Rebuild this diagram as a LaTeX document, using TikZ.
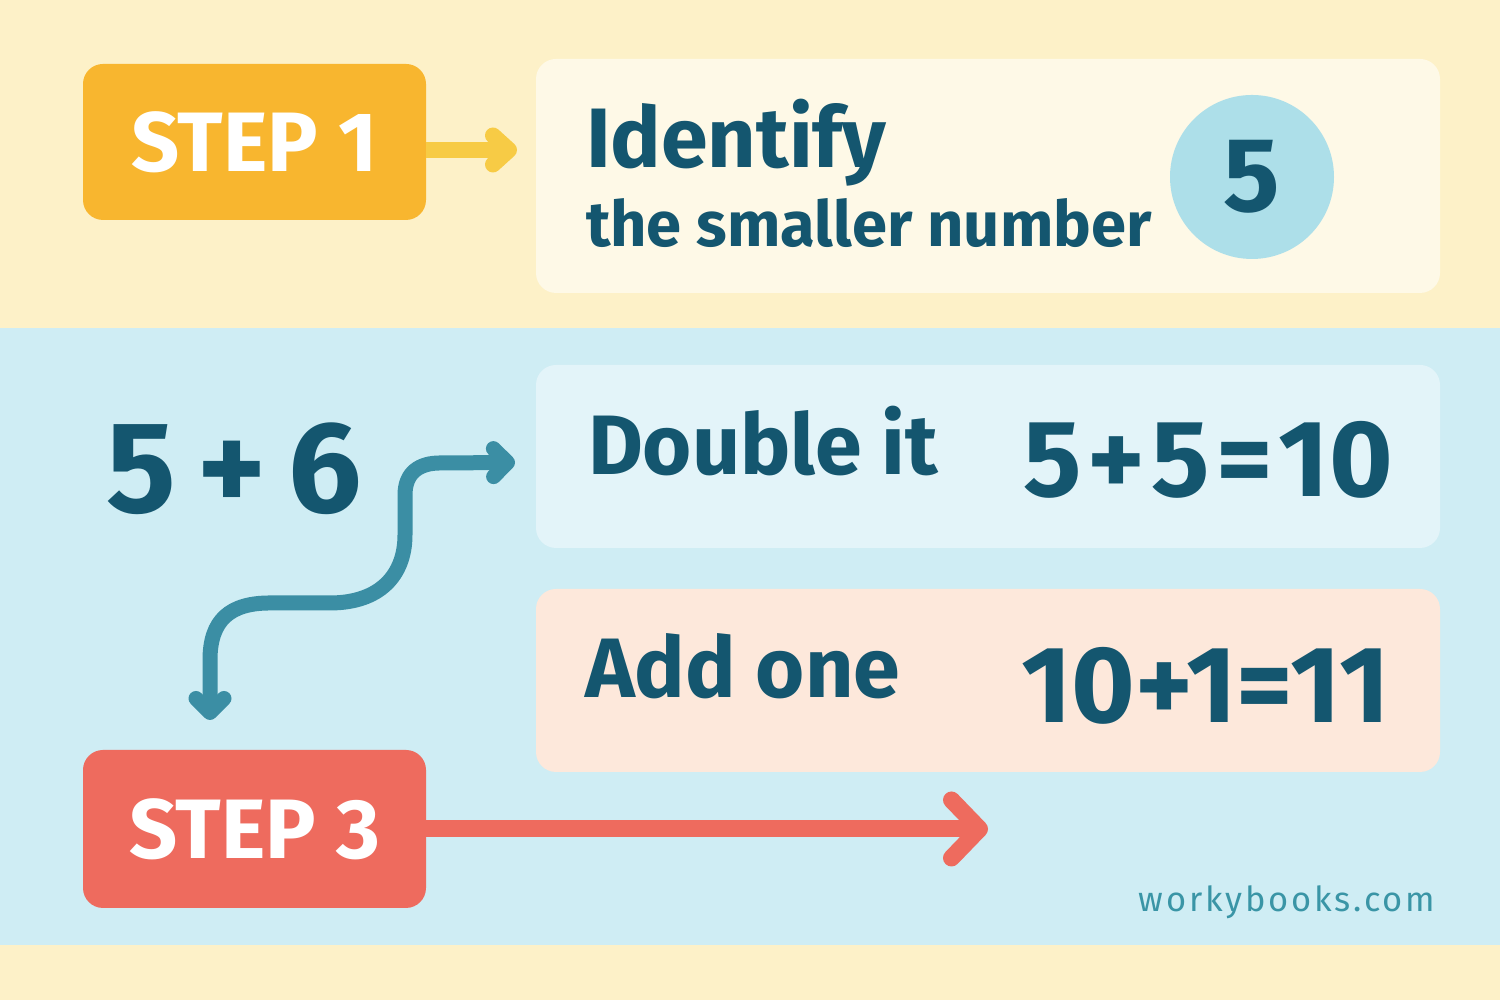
\documentclass[tikz,border=0pt]{standalone}
\usepackage{fontspec}
\setmainfont{Fira Sans}
\usetikzlibrary{positioning}
\usetikzlibrary{calc,arrows.meta}
\definecolor{ink}{HTML}{14566F}
\definecolor{bandyellow}{HTML}{FDF1C8}
\definecolor{bandblue}{HTML}{CFEDF4}
\definecolor{stepone}{HTML}{F8B62F}
\definecolor{arrowyellow}{HTML}{F7CB45}
\definecolor{cardone}{HTML}{FEF9E7}
\definecolor{disc}{HTML}{ADDFE9}
\definecolor{cardtwo}{HTML}{E3F4F9}
\definecolor{cardthree}{HTML}{FDE8DB}
\definecolor{tealarrow}{HTML}{3B8EA4}
\definecolor{stepthree}{HTML}{EE6B5E}
\definecolor{web}{HTML}{3A95A6}

\begin{document}
\begin{tikzpicture}[every node/.style={outer sep=0pt,inner sep=0pt},
		stepbox/.style={rounded corners=0.2cm,minimum width=3.43cm,text=white,font=\fontsize{24}{30}\selectfont\bfseries},
		card/.style={rounded corners=0.2cm,minimum width=9.04cm},
		big/.style={text=ink,font=\fontsize{24}{28}\selectfont\bfseries},
		sum/.style={text=ink,font=\fontsize{31}{36}\selectfont\bfseries},
		link/.style={line width=0.16cm,-{Straight Barb[length=1.6mm,width=2.9mm,round]}},
		turn/.style={line width=0.15cm,draw=tealarrow,{Straight Barb[length=1.4mm,width=2.8mm,round]}-{Straight Barb[length=1.4mm,width=2.8mm,round]}},
		]
		\useasboundingbox (0,0) rectangle (15,10);
		\fill[bandyellow] (0,0) rectangle (15,10);
		\fill[bandblue] (0,0.55) rectangle (15,6.72);

		\node[stepbox,fill=stepone,minimum height=1.56cm] (s1) at (2.545,8.58) {STEP 1};
		\node[card,fill=cardone,minimum height=2.34cm] (c1) at (9.88,8.24) {};
		\node[big,anchor=base west] (ident) at (5.86,8.32) {Identify};
		\node[text=ink,font=\fontsize{18}{21}\selectfont\bfseries,anchor=base west] (smaller) at (5.86,7.53) {the smaller number};
		\node[circle,fill=disc,minimum size=1.64cm,text=ink,font=\fontsize{30}{36}\selectfont\bfseries] (five) at (12.52,8.23) {5};
		\draw[link,draw=arrowyellow,shorten >=0.19cm] ([yshift=-0.08cm]s1.east) -- ([yshift=-0.08cm]s1.east -| c1.west);

		\node[card,fill=cardtwo,minimum height=1.83cm,below=0.72cm of c1] (c2) {};
		\node[card,fill=cardthree,minimum height=1.83cm,below=0.41cm of c2] (c3) {};
		\node[stepbox,fill=stepthree,minimum height=1.58cm] (s3) at (2.545,1.71) {STEP 3};

		\node[text=ink,font=\fontsize{37}{44}\selectfont\bfseries,anchor=base west] (sum56) at (1.06,4.87) {5\,+\,6};
		\node[big,anchor=base west] (dbl) at (5.88,5.25) {Double it};
		\node[sum,anchor=base east] (dblsum) at (13.93,5.03) {5\hspace{.6mm}+\hspace{.6mm}5\hspace{.6mm}=\hspace{.6mm}10};
		\node[big,anchor=base west] (addone) at (5.85,3.02) {Add one};
		\node[sum,anchor=base east] (addsum) at (13.90,2.77) {10+1=11};

		\coordinate (c2in) at ($(c2.west)+(-0.21,-0.06)$);
		\coordinate (s3in) at ($(s3.north west)+(1.27,0.30)$);
		\draw[turn] (s3in) -- ++(0,0.6) .. controls +(0,0.4) and +(-0.4,0) .. ++(0.6,0.57) -- ++(0.6,0)
			.. controls +(0.5,0) and +(0,-0.4) .. ++(0.75,0.68) -- ++(0,0.4)
			.. controls +(0,0.23) and +(-0.2,0) .. ++(0.35,0.32) -- (c2in);

		\coordinate (r3) at (c3.center |- s3.east);
		\draw[line width=0.17cm,draw=stepthree,-{Straight Barb[length=2.8mm,width=5.8mm,round]}] (s3.east) -- (r3);

		\node[text=web,font=\fontsize{9.8}{12}\selectfont\addfontfeatures{LetterSpace=8},anchor=base east] (site) at (14.35,0.88) {workybooks.com};
\end{tikzpicture}
\end{document}
